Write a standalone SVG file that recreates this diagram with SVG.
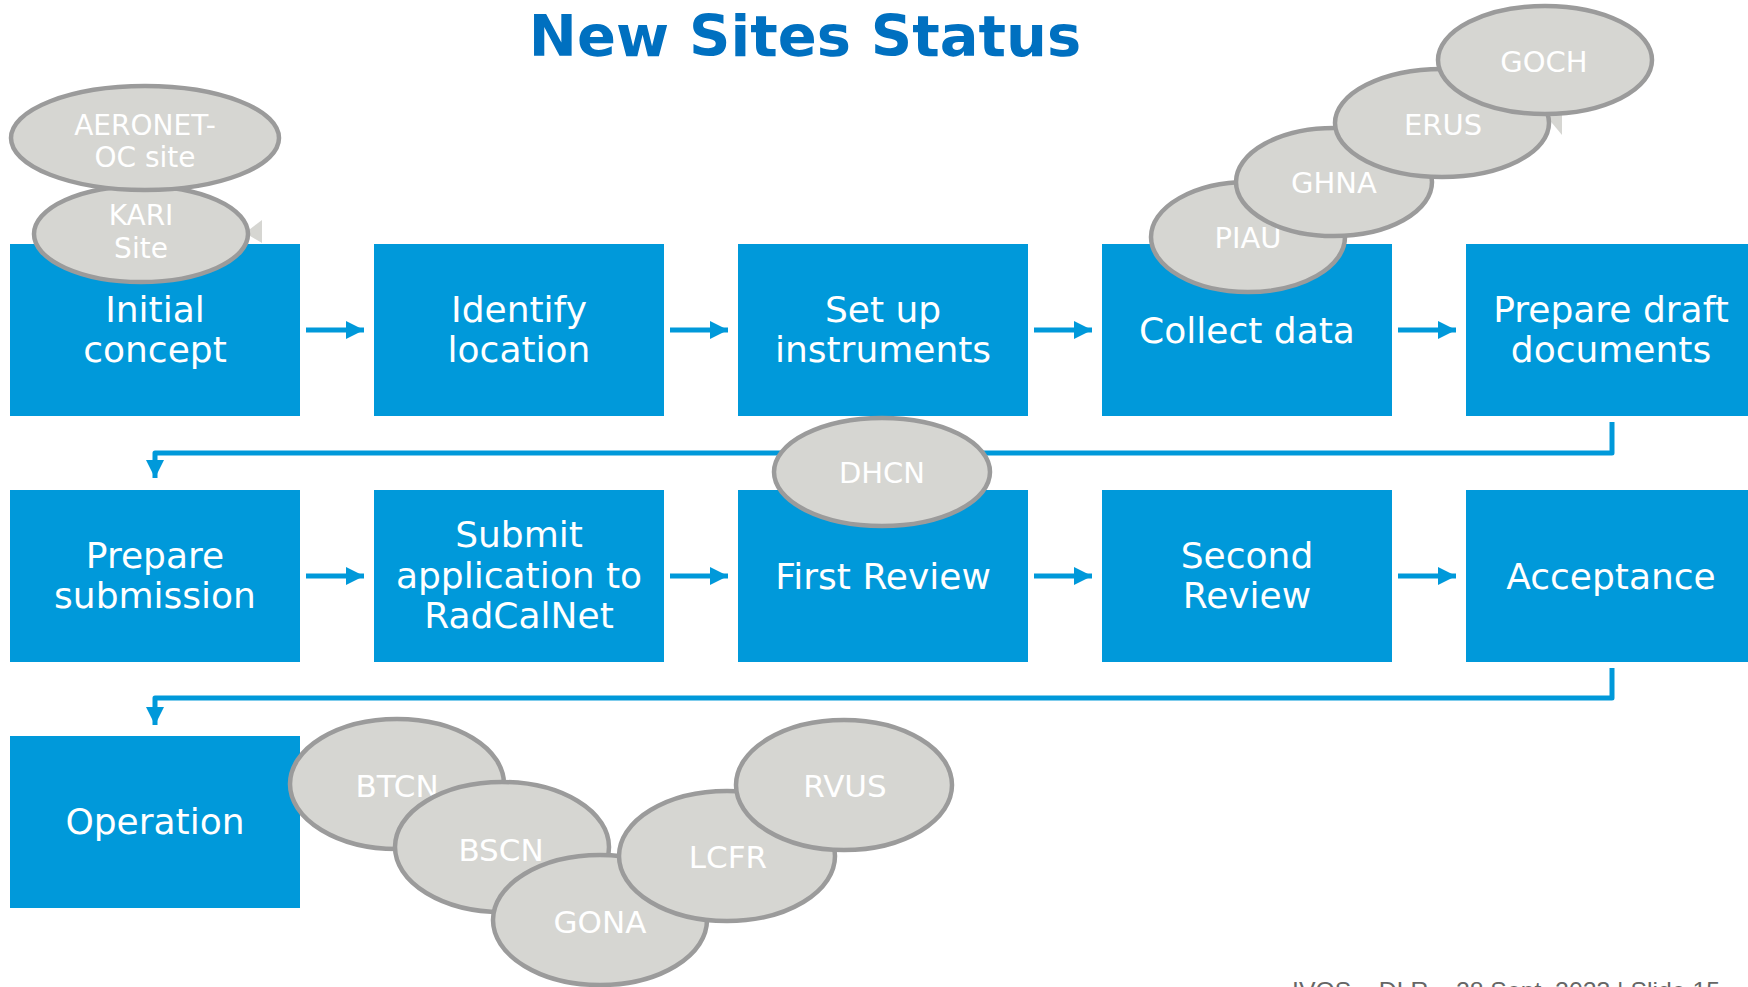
<svg xmlns="http://www.w3.org/2000/svg" width="1748" height="987" viewBox="0 0 1748 987">
<defs>
<style>
.box{fill:#0099DA}
.bt{font-family:"DejaVu Sans",Verdana,sans-serif;font-size:36px;fill:#ffffff;text-anchor:middle}
.site{fill:#D6D6D2;stroke:#9B9B9B;stroke-width:4.5}
.st{font-family:"DejaVu Sans",Verdana,sans-serif;font-size:29px;fill:#ffffff;text-anchor:middle}
.st3{font-family:"DejaVu Sans",Verdana,sans-serif;font-size:31px;fill:#ffffff;text-anchor:middle}
.st2{font-family:"DejaVu Sans",Verdana,sans-serif;font-size:28px;fill:#ffffff;text-anchor:middle}
.tail{fill:#D6D6D2}
.conn{fill:none;stroke:#0099DA;stroke-width:5;stroke-linejoin:round}
</style>
<marker id="ah" viewBox="0 0 10 10" refX="10" refY="5" markerWidth="18" markerHeight="18" markerUnits="userSpaceOnUse" orient="auto">
<path d="M0,0 L10,5 L0,10 Z" fill="#0099DA"/>
</marker>
</defs>
<rect width="1748" height="987" fill="#ffffff"/>
<text x="805" y="56" font-family="DejaVu Sans,Verdana,sans-serif" font-weight="bold" font-size="57.5" fill="#0070C0" text-anchor="middle">New Sites Status</text>

<g id="n-initial"><rect class="box" x="10" y="244" width="290" height="172"/><text class="bt" x="155" y="322">Initial</text><text class="bt" x="155" y="362">concept</text></g>
<g id="n-identify"><rect class="box" x="374" y="244" width="290" height="172"/><text class="bt" x="519" y="322">Identify</text><text class="bt" x="519" y="362">location</text></g>
<g id="n-setup"><rect class="box" x="738" y="244" width="290" height="172"/><text class="bt" x="883" y="322">Set up</text><text class="bt" x="883" y="362">instruments</text></g>
<g id="n-collect"><rect class="box" x="1102" y="244" width="290" height="172"/><text class="bt" x="1247" y="343">Collect data</text></g>
<g id="n-draft"><rect class="box" x="1466" y="244" width="290" height="172"/><text class="bt" x="1611" y="322">Prepare draft</text><text class="bt" x="1611" y="362">documents</text></g>

<g id="n-prepsub"><rect class="box" x="10" y="490" width="290" height="172"/><text class="bt" x="155" y="568">Prepare</text><text class="bt" x="155" y="608">submission</text></g>
<g id="n-submit"><rect class="box" x="374" y="490" width="290" height="172"/><text class="bt" x="519" y="547">Submit</text><text class="bt" x="519" y="588">application to</text><text class="bt" x="519" y="628">RadCalNet</text></g>
<g id="n-first"><rect class="box" x="738" y="490" width="290" height="172"/><text class="bt" x="883" y="589">First Review</text></g>
<g id="n-second"><rect class="box" x="1102" y="490" width="290" height="172"/><text class="bt" x="1247" y="568">Second</text><text class="bt" x="1247" y="608">Review</text></g>
<g id="n-accept"><rect class="box" x="1466" y="490" width="290" height="172"/><text class="bt" x="1611" y="589">Acceptance</text></g>

<g id="n-operation"><rect class="box" x="10" y="736" width="290" height="172"/><text class="bt" x="155" y="834">Operation</text></g>

<g id="connectors">
<path class="conn" d="M306,330 H364" marker-end="url(#ah)"/>
<path class="conn" d="M670,330 H728" marker-end="url(#ah)"/>
<path class="conn" d="M1034,330 H1092" marker-end="url(#ah)"/>
<path class="conn" d="M1398,330 H1456" marker-end="url(#ah)"/>
<path class="conn" d="M306,576 H364" marker-end="url(#ah)"/>
<path class="conn" d="M670,576 H728" marker-end="url(#ah)"/>
<path class="conn" d="M1034,576 H1092" marker-end="url(#ah)"/>
<path class="conn" d="M1398,576 H1456" marker-end="url(#ah)"/>
<path class="conn" d="M1612,422 V453 H155 V478" marker-end="url(#ah)"/>
<path class="conn" d="M1612,668 V698 H155 V725" marker-end="url(#ah)"/>
</g>

<g id="s-kari"><polygon class="tail" points="245,233 262,220 262,243"/><ellipse class="site" cx="141" cy="234" rx="107" ry="48"/><text class="st2" x="141" y="225">KARI</text><text class="st2" x="141" y="258">Site</text></g>
<g id="s-aeronet"><ellipse class="site" cx="145" cy="138" rx="134" ry="52"/><text class="st2" x="145" y="135">AERONET-</text><text class="st2" x="145" y="167">OC site</text></g>

<g id="s-piau"><ellipse class="site" cx="1248" cy="237" rx="97" ry="55"/><text class="st" x="1248" y="248">PIAU</text></g>
<g id="s-ghna"><ellipse class="site" cx="1334" cy="182" rx="98" ry="54"/><text class="st" x="1334" y="193">GHNA</text></g>
<g id="s-erus"><polygon class="tail" points="1547,117 1562,112 1562,135"/><ellipse class="site" cx="1442" cy="123" rx="107" ry="54"/><text class="st" x="1443" y="135">ERUS</text></g>
<g id="s-goch"><ellipse class="site" cx="1545" cy="60" rx="107" ry="54"/><text class="st" x="1544" y="72">GOCH</text></g>

<g id="s-dhcn"><ellipse class="site" cx="882" cy="472" rx="108" ry="54"/><text class="st" x="882" y="483">DHCN</text></g>

<g id="s-btcn"><ellipse class="site" cx="397" cy="784" rx="107" ry="65"/><text class="st3" x="397" y="797">BTCN</text></g>
<g id="s-bscn"><ellipse class="site" cx="502" cy="847" rx="107" ry="65"/><text class="st3" x="501" y="861">BSCN</text></g>
<g id="s-gona"><ellipse class="site" cx="600" cy="920" rx="107" ry="65"/><text class="st3" x="600" y="933">GONA</text></g>
<g id="s-lcfr"><ellipse class="site" cx="727" cy="856" rx="108" ry="65"/><text class="st3" x="728" y="868">LCFR</text></g>
<g id="s-rvus"><ellipse class="site" cx="844" cy="785" rx="108" ry="65"/><text class="st3" x="845" y="797">RVUS</text></g>

<text x="1292" y="999" font-family="Liberation Sans,Arial,sans-serif" font-size="24" fill="#666666" textLength="428" lengthAdjust="spacingAndGlyphs">IVOS – DLR – 28 Sept. 2023 | Slide 15</text>
</svg>
